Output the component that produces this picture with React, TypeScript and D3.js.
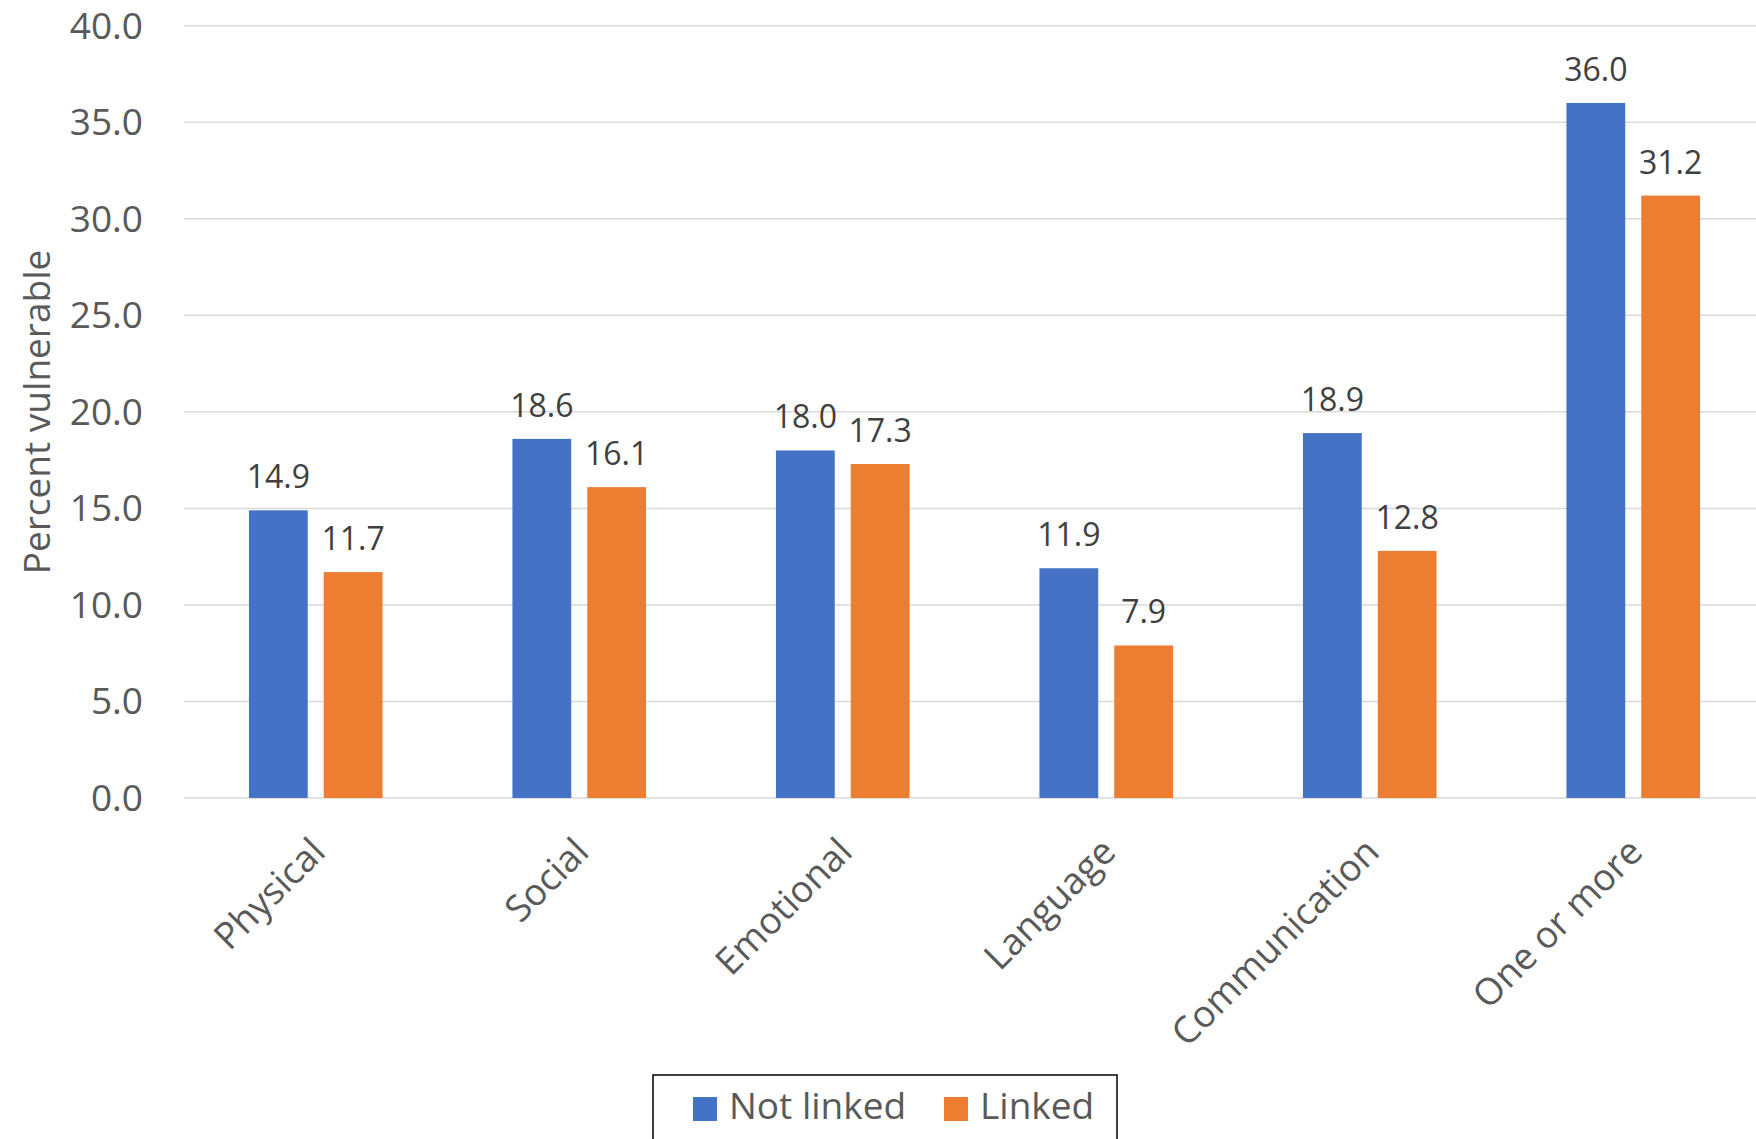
import React from "react";
import * as d3 from "d3";

const categories = ["Physical", "Social", "Emotional", "Language", "Communication", "One or more"];
const seriesNames = ["Not linked", "Linked"];
const notLinked = [14.9, 18.6, 18.0, 11.9, 18.9, 36.0];
const linked = [11.7, 16.1, 17.3, 7.9, 12.8, 31.2];
const yTicks = [0, 5, 10, 15, 20, 25, 30, 35, 40];
const colors = ["#4472C4", "#ED7D31"];

const W = 1756;
const H = 1139;
const FONT = "'Open Sans', 'Noto Sans', sans-serif";

export default function App() {
  const values = [notLinked, linked];
  const x0 = d3.scaleBand<string>().domain(categories).range([184, 1765]).paddingInner(0).paddingOuter(0);
  const x1 = d3
    .scaleBand<string>()
    .domain(seriesNames)
    .range([0, x0.bandwidth()])
    .paddingInner(0.214)
    .paddingOuter(0.868);
  const y = d3.scaleLinear().domain([0, 40]).range([798, 25.7]);

  return (
    <svg
      width={W}
      height={H}
      style={{ position: "absolute", left: 0, top: 0, background: "#fff" }}
      fontFamily={FONT}
    >
      <rect x={0} y={0} width={W} height={H} fill="#fff" />
      {/* gridlines */}
      {yTicks.map((t) => (
        <line key={"g" + t} x1={184} x2={W} y1={y(t)} y2={y(t)} stroke="#d9d9d9" strokeWidth={1.5} />
      ))}
      {/* y tick labels */}
      {yTicks.map((t) => (
        <text key={"t" + t} x={143} y={y(t) + 13} textAnchor="end" fontSize={37} fill="#595959">
          {t.toFixed(1)}
        </text>
      ))}
      {/* y axis title */}
      <text
        transform={`translate(50, 412) rotate(-90)`}
        textAnchor="middle"
        fontSize={37}
        fill="#595959"
      >
        Percent vulnerable
      </text>
      {/* bars */}
      {categories.map((c, i) => (
        <g key={c} transform={`translate(${x0(c)},0)`}>
          {seriesNames.map((s, j) => {
            const v = values[j][i];
            return (
              <g key={s}>
                <rect
                  x={x1(s)}
                  y={y(v)}
                  width={x1.bandwidth()}
                  height={y(0) - y(v)}
                  fill={colors[j]}
                />
                <text
                  x={(x1(s) as number) + x1.bandwidth() / 2}
                  y={y(v) - 22}
                  textAnchor="middle"
                  fontSize={32}
                  fill="#404040"
                >
                  {v.toFixed(1)}
                </text>
              </g>
            );
          })}
        </g>
      ))}
      {/* category labels */}
      {categories.map((c) => {
        const cx = (x0(c) as number) + x0.bandwidth() / 2;
        return (
          <text
            key={"c" + c}
            transform={`translate(${cx + 11.5}, 854) rotate(-45)`}
            textAnchor="end"
            fontSize={37}
            fill="#595959"
          >
            {c}
          </text>
        );
      })}
      {/* legend */}
      <rect x={653} y={1075} width={464} height={90} fill="#fff" stroke="#000" strokeWidth={1.5} />
      {seriesNames.map((s, j) => {
        const lx = j === 0 ? 693 : 944;
        return (
          <g key={"l" + s}>
            <rect x={lx} y={1097} width={24} height={24} fill={colors[j]} />
            <text x={lx + 36} y={1119} fontSize={37} fill="#595959">
              {s}
            </text>
          </g>
        );
      })}
    </svg>
  );
}
